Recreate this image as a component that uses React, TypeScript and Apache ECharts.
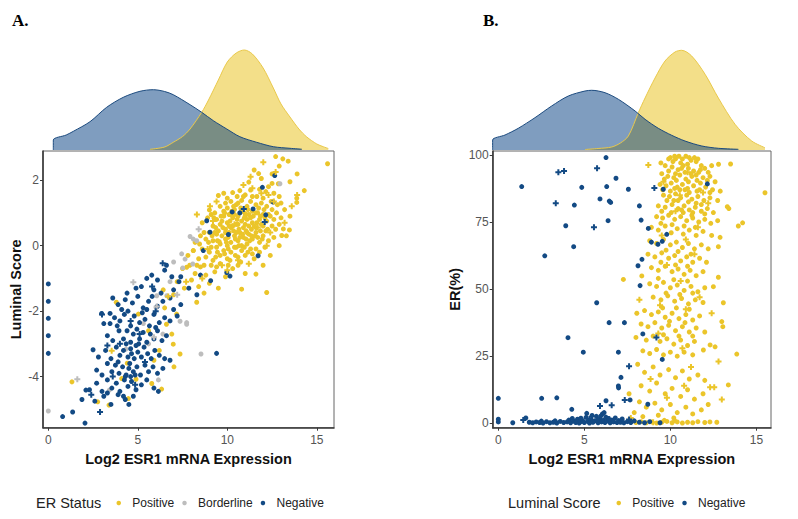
import React, { useEffect, useRef } from "react";
import * as echarts from "echarts";

// ---------- Panel A: Log2 ESR1 vs Luminal Score, coloured by ER status ----------
const aPosDots: number[][] = [
  [12.7,2.72],[13.1,2.65],[13.4,2.58],[12.9,2.43],[15.6,2.5],[11.5,2.31],[13.9,2.19],[12.5,2.19],[11.9,2.05],
  [11.2,1.94],[12.85,1.89],[13.5,1.95],[10.7,1.68],[14.3,1.68],[11.8,1.72],[12.3,1.8],[11.0,1.55],[9.5,1.53],[13.88,1.45],[13.88,1.32],[12.6,1.6],[10.3,1.62],[11.4,1.5],[12.0,1.45],[10.0,1.45],[12.9,1.5],
  [9.6,1.2],[9.9,1.3],[10.2,1.35],[10.5,1.25],[10.8,1.38],[11.1,1.2],[11.3,1.35],[11.6,1.25],[11.9,1.3],[12.2,1.2],[12.5,1.1],[12.8,1.25],[13.2,1.1],[9.3,1.0],[9.8,1.05],[10.1,0.95],[10.4,1.1],[10.7,1.0],[11.0,0.98],[11.4,1.05],[11.7,1.0],[12.0,0.95],[12.4,0.9],[13.0,0.85],[13.5,0.9],
  [8.6,0.7],[8.9,0.85],[9.2,0.6],[9.4,0.8],[9.6,0.65],[9.8,0.9],[10.0,0.7],[10.2,0.55],[10.3,0.85],[10.5,0.65],[10.6,0.9],[10.8,0.75],[10.9,0.55],[11.1,0.8],[11.2,0.6],[11.4,0.7],[11.6,0.55],[11.8,0.8],[12.0,0.6],[12.2,0.75],[12.5,0.6],[12.7,0.5],[13.13,0.51],[13.47,0.48],[9.1,0.95],[9.9,0.5],[10.4,0.95],[11.0,0.92],
  [8.2,0.1],[8.5,0.3],[8.8,0.2],[9.0,0.4],[9.2,0.15],[9.4,0.35],[9.6,0.05],[9.7,0.3],[9.9,0.2],[10.1,0.4],[10.2,0.1],[10.4,0.3],[10.6,0.15],[10.7,0.4],[10.9,0.25],[11.1,0.05],[11.2,0.35],[11.4,0.2],[11.6,0.4],[11.8,0.1],[12.0,0.3],[12.3,0.15],[12.6,0.25],[13.04,0.31],[12.9,0.0],[9.5,0.45],[10.0,0.0],[10.8,0.0],
  [7.8,-0.3],[8.1,-0.15],[8.4,-0.4],[8.6,-0.1],[8.8,-0.35],[9.0,-0.2],[9.2,-0.45],[9.4,-0.05],[9.6,-0.3],[9.8,-0.15],[10.0,-0.4],[10.2,-0.2],[10.4,-0.05],[10.6,-0.35],[10.8,-0.15],[11.0,-0.3],[11.3,-0.1],[11.5,-0.4],[11.8,-0.2],[12.1,-0.05],[12.4,-0.3],
  [7.5,-0.7],[7.9,-0.6],[8.2,-0.85],[8.5,-0.65],[8.8,-0.9],[9.1,-0.6],[9.3,-0.8],[9.6,-0.55],[9.9,-0.95],[10.3,-0.7],[10.6,-0.6],[11.0,-0.85],[11.6,-0.87],[12.0,-0.6],
  [7.2,-1.1],[7.6,-1.3],[8.0,-1.05],[8.4,-1.25],[8.7,-1.45],[9.0,-1.15],[9.5,-1.3],[10.8,-1.33],[12.2,-1.43],[7.0,-1.5],[6.42,-1.35],
  [8.29,-1.73],[3.8,-1.73],[5.03,-2.09],[7.17,-2.09],[4.41,-3.59],[4.47,-4.67],[3.39,-4.87],[2.76,-4.77],[5.78,-4.21],[6.33,-4.38],[6.98,-3.01],[7.02,-3.7],[7.36,-3.31],[5.9,-3.5],[4.9,-4.08],[4.1,-4.06],[1.32,-4.16],[7.73,-0.66],[8.1,-0.15],[6.9,-2.7],[6.5,-1.9],[5.6,-2.6],[6.2,-3.2],[6.6,-2.4],
  [9.55,0.12],[9.75,0.55],[9.85,1.0],[10.05,0.25],[10.15,0.75],[10.25,1.05],[10.35,0.45],[10.45,0.2],[10.55,0.8],[10.65,0.5],[10.75,1.15],[10.85,0.35],[10.95,0.85],[11.05,0.45],[11.15,1.1],[11.25,0.15],[11.35,0.5],[11.45,0.9],[11.55,0.3],[11.65,0.7],[11.75,1.15],[11.85,0.45],[11.95,0.2],[12.1,0.85],[12.15,0.45],[9.35,0.55],[9.15,0.3],[9.65,0.9],[9.45,-0.2],[10.05,-0.1],[10.5,-0.05],[10.95,-0.05],[11.4,-0.25],[10.3,0.6],[10.7,0.25],[11.0,0.65],[10.2,0.95],[9.9,0.4],[11.3,0.85],[10.6,1.3],[11.6,1.0],[10.0,1.15],[9.0,1.09],
  [9.25,0.85],[9.45,0.15],[9.7,0.75],[9.95,0.1],[10.1,0.6],[10.35,1.2],[10.5,0.4],[10.65,0.0],[10.85,1.05],[11.05,0.2],[11.2,0.95],[11.35,0.3],[11.5,0.6],[11.7,0.25],[11.9,0.65],[12.05,1.1],[12.25,0.5],[12.45,1.35],[12.6,0.8],[12.75,1.0],[9.1,-0.05],[9.35,-0.35],[9.85,-0.25],[10.15,-0.45],[10.45,-0.3],[10.75,-0.5],[11.15,-0.2],[11.6,-0.1],[12.3,0.95],[8.7,0.4],[8.95,0.1],[8.45,0.05],[8.3,-0.6],[8.7,-0.6],[9.4,-0.65],[10.05,-0.6],[10.9,1.5],[11.3,1.7],[11.65,1.5],[12.15,1.65],[12.5,1.9],[11.75,2.2],[10.55,1.5],[9.8,1.6],[13.0,1.3],[13.3,0.3],[12.9,0.65],[9.3,0.4],[10.6,0.65],[11.85,0.9],[11.1,0.4]
];
const aPosPlus: number[][] = [
  [12.01,2.55],[11.3,2.1],[12.7,2.25],[13.9,1.55],[9.03,1.2],[12.3,1.55],[10.9,1.85],[8.3,0.95],[12.2,0.0],[11.7,0.55],[10.4,0.65],[9.2,0.75],[9.7,-0.6],[11.2,-0.55],[10.0,-0.75],[8.6,-1.0],[13.2,0.7],[12.6,1.35],[11.9,1.6],[9.4,1.35],[10.6,-0.45],[8.9,-0.1],[7.7,-1.1],[11.4,1.75],[12.4,0.4],[3.54,-3.21],[6.7,-1.55],[13.6,1.2]
];
const aBordDots: number[][] = [
  [0,-5.05],[8.53,-3.31],[7.36,-2.31],[7.73,-2.4],[6.02,-1.89],[5.31,-2.38],[4.34,-3.16],[6.15,-4.1],[3.41,-4.41],[6.06,-1.53],[7.45,-0.25],[7.92,0.28],[8.29,0.15],[7.51,-0.68],[6.62,-1.53],[7.73,-2.35],[12.94,1.89],[8.1,0.2],[7.64,-0.41],[8.07,-0.56],[6.8,-1.1],[5.6,-3.0],[6.4,-2.7],[7.0,-0.5]
];
const aBordPlus: number[][] = [
  [1.62,-4.08],[4.75,-1.12],[6.06,-1.86],[5.9,-2.8],[7.2,-1.5],[8.4,0.5]
];
const aNegDots: number[][] = [
  [5.5,-1.0],[5.78,-0.9],[6.1,-1.05],[6.5,-0.75],[6.9,-0.95],[7.3,-1.1],[4.9,-1.3],[5.2,-1.25],[5.9,-1.35],[6.3,-1.45],[4.4,-1.45],[7.0,-1.35],[6.6,-0.6],
  [3.9,-1.8],[4.3,-1.65],[4.7,-1.75],[5.0,-1.55],[5.3,-1.9],[5.6,-1.7],[5.8,-1.55],[6.1,-1.85],[6.4,-1.7],[6.8,-1.6],[7.0,-1.95],[7.4,-1.8],[4.1,-1.95],[5.5,-1.95],[3.6,-1.6],
  [2.98,-2.07],[3.45,-2.07],[3.1,-2.38],[3.45,-2.38],[3.7,-2.2],[4.0,-2.3],[4.25,-2.1],[4.6,-2.45],[4.8,-2.15],[5.1,-2.35],[5.4,-2.25],[5.65,-2.45],[5.9,-2.1],[6.2,-2.35],[6.5,-2.2],[6.8,-2.3],[7.2,-2.15],[3.85,-2.45],[4.45,-2.0],[5.25,-2.05],[6.0,-2.5],[0,-2.22],
  [3.3,-2.75],[3.6,-2.9],[3.95,-2.6],[4.2,-2.85],[4.4,-2.6],[4.6,-2.95],[4.75,-2.7],[4.95,-2.55],[5.1,-2.85],[5.3,-2.65],[5.5,-2.95],[5.7,-2.7],[5.9,-2.85],[6.1,-2.6],[6.35,-2.9],[6.6,-2.75],[4.35,-3.0],[0,-2.75],[2.5,-3.18],[5.05,-3.0],
  [2.8,-3.4],[3.2,-3.2],[3.5,-3.45],[3.8,-3.1],[4.0,-3.35],[4.2,-3.2],[4.45,-3.4],[4.6,-3.15],[4.8,-3.45],[5.0,-3.25],[5.2,-3.4],[5.35,-3.1],[5.55,-3.3],[5.75,-3.45],[5.95,-3.2],[6.2,-3.35],[6.5,-3.45],[6.8,-3.5],[9.4,-3.29],[0,-3.29],[4.9,-3.05],[4.65,-3.3],
  [2.7,-3.8],[3.0,-3.95],[3.3,-3.6],[3.55,-3.85],[3.75,-3.65],[3.95,-3.9],[4.15,-3.7],[4.35,-3.95],[4.55,-3.6],[4.75,-3.85],[4.95,-3.7],[5.15,-3.95],[5.4,-3.65],[5.6,-3.85],[5.85,-3.7],[6.1,-3.9],[6.4,-3.75],[3.9,-3.55],[4.5,-3.75],[4.85,-3.95],
  [2.3,-4.4],[2.7,-4.2],[3.0,-4.45],[3.3,-4.1],[3.55,-4.35],[3.8,-4.2],[4.0,-4.45],[4.25,-4.1],[4.45,-4.3],[4.65,-4.15],[4.9,-4.4],[5.2,-4.25],[5.5,-4.1],[5.9,-4.35],[6.15,-4.45],[2.1,-4.41],[4.6,-4.0],[4.3,-4.0],
  [1.88,-4.7],[2.6,-4.75],[3.1,-4.6],[3.5,-4.85],[3.9,-4.55],[4.3,-4.7],[4.5,-4.85],[4.75,-4.6],[1.36,-5.08],[0.8,-5.22],[2.05,-5.42],[3.3,-4.5],[4.2,-4.6],
  [8.85,0.76],[9.03,0.41],[8.66,-0.15],[9.97,-0.82],[10.15,-0.93],[11.72,-0.31],[12.15,0.94],[12.56,1.33],[12.65,2.14],[11.96,1.78],[11.44,1.12],[10.7,1.0],[10.27,1.03],[10.06,0.34],[9.07,-1.07],[8.5,-0.9],[7.85,-1.3],[7.4,-0.95],[8.3,-1.5],
  [0,-1.17],[0,-1.7]
];
const aNegPlus: number[][] = [
  [6.39,-0.54],[2.89,-5.08],[5.8,-1.25],[3.0,-2.1],[12.09,0.72],[10.92,1.12],[5.1,-2.7],[4.0,-3.0],[3.6,-4.0],[5.4,-3.55],[4.6,-2.3],[6.0,-2.0],[2.4,-4.55],[3.3,-3.05],[4.85,-4.25]
];

// ---------- Panel B: Log2 ESR1 vs ER(%), coloured by Luminal Score ----------
const bPosDots: number[][] = [
  [10.0,99],[10.3,98.5],[10.6,97],[10.9,99.5],[11.2,98],[11.5,97.5],[11.8,96],[9.7,96],[10.1,95.5],[10.45,94.5],[10.75,96],[11.05,95],[11.35,94],[11.65,93.5],[12.0,95],[12.4,96],[12.8,96.5],[13.5,96.6],
  [9.5,93],[9.85,92],[10.2,91.5],[10.55,92.5],[10.9,91],[11.25,92],[11.55,90.5],[11.9,91.5],[12.3,92],[12.6,90],
  [9.4,89],[9.75,88.5],[10.05,89.5],[10.4,88],[10.7,89],[11.0,87.5],[11.35,88.5],[11.7,87],[12.05,88],[12.45,87],[12.9,86.5],
  [9.6,85],[9.95,84.5],[10.3,85.5],[10.6,84],[10.95,85],[11.25,83.5],[11.6,84.5],[11.95,83],[12.3,84],[12.75,83],[13.31,80.7],
  [9.3,81],[9.7,80.5],[10.1,81.5],[10.45,80],[10.8,81],[11.1,79.5],[11.45,80.5],[11.8,79],[12.15,80],[12.5,78.5],[13.4,80],
  [9.2,77],[9.55,76.5],[9.9,77.5],[10.25,76],[10.6,77],[10.95,75.5],[11.3,76.5],[11.65,75],[12.0,76],[12.35,74.5],[12.75,75.5],[14.2,74.7],[13.95,73.5],[15.5,85.9],
  [10.15,97.5],[10.5,99.5],[11.0,96.5],[11.4,99],[10.3,93],[10.85,93.5],[11.5,92.5],[10.0,86.5],[10.55,87],[11.1,86],[11.5,82],[10.2,83],[10.75,78.5],[11.25,77.5],
  [9.45,97],[9.9,98.5],[10.25,99.5],[10.7,98.5],[11.1,99],[11.6,98.5],[9.9,94],[10.65,95],[11.2,93],[11.75,94.5],[12.2,93.5],[9.65,91],[10.35,90.5],[11.05,90],[11.75,89.5],[12.15,90.5],[9.55,87],[10.25,87.5],[10.85,87],[11.55,86.5],[12.3,86],[9.8,83],[10.45,83],[11.05,82.5],[11.8,81.5],[9.5,79],[10.05,78.5],[10.65,79.5],[11.3,78.5],[12.0,78],[9.45,74.5],[10.1,74],[10.8,73.5],[11.45,73],
  [8.9,73],[9.3,72],[9.7,73.5],[10.05,71],[10.4,72.5],[10.75,70.5],[11.1,72],[11.5,70],[11.9,71.5],[12.4,70],[12.89,69.3],
  [8.8,68],[9.2,67],[9.6,68.5],[10.0,66.5],[10.35,67.5],[10.7,65.5],[11.05,67],[11.4,65],[11.8,66.5],[12.2,65],[12.79,65.8],
  [8.7,63],[9.1,62],[9.5,63.5],[9.9,61.5],[10.25,62.5],[10.6,60.5],[10.95,62],[11.3,60],[11.7,61.5],[12.1,60],[9.75,64.5],[10.45,64],[11.2,63],[9.45,60],[10.3,59],[11.0,58.5],
  [8.9,58],[9.3,57],[9.7,58.5],[10.1,56.5],[10.45,57.5],[10.8,55.5],[11.15,57],[11.5,55],[11.9,56.5],[12.79,54.4],[7.27,53.6],[8.34,54.9],[9.3,54],[10.2,53.5],[11.0,53],
  [8.8,52],[9.2,51],[9.6,52.5],[10.0,50.5],[10.4,51.5],[10.8,49.5],[11.2,51],[11.6,49],[12.0,50.5],[12.5,50.9],[9.75,48.5],[10.55,48],[11.3,48.5],
  [9.0,47],[9.45,46],[9.85,47.5],[10.25,45.5],[10.65,46.5],[11.05,44.5],[11.45,46],[11.9,45],[13.08,44.9],[9.55,43],[10.35,43],[11.1,42.5],
  [8.05,41.0],[8.5,42],[8.9,40.5],[9.3,41.5],[9.7,39.5],[10.1,41],[10.5,39],[10.9,40.5],[11.3,38.5],[11.7,40],[12.99,37.9],[9.95,38],[10.85,37.5],
  [8.3,37],[8.7,36],[9.1,37.5],[9.5,35.5],[9.9,36.5],[10.3,34.5],[10.7,36],[11.1,34],[11.5,35.5],[12.0,34],[13.05,36],[9.6,33],[10.5,32.5],[11.3,32.5],
  [8.0,32],[8.6,31],[9.0,32.5],[9.4,30.5],[9.8,31.5],[10.2,29.5],[10.6,31],[11.0,29],[11.4,30.5],[11.92,27.3],[12.31,29.2],[12.6,28.5],
  [8.4,27],[8.8,26],[9.2,27.5],[9.6,25.5],[10.0,26.5],[10.4,25],[10.8,26.5],[11.3,25.5],[13.86,25.8],
  [8.1,22],[8.5,19],[9.0,21],[9.4,18],[9.9,20],[10.3,17],[10.7,19.5],[11.1,16.5],[11.6,18],[12.0,16],
  [8.3,14],[8.8,12],[9.2,15],[9.7,11],[10.1,13],[10.6,10],[11.0,12.5],[11.4,9],[11.9,11],[13.37,14.3],
  [8.2,8],[8.6,6],[9.1,7.5],[9.5,5],[10.0,7],[10.4,4],[10.9,6],[11.3,3.5],[7.9,4],[8.4,2.5],[9.3,3],[10.2,2],[11.8,5],[12.2,7],[7.6,11],
  [8.0,0.3],[8.3,0.6],[8.6,0.2],[8.9,0.5],[9.2,0.1],[9.5,0.4],[9.8,0.7],[10.1,0.2],[10.4,0.5],[10.7,0.1],[11.0,0.4],[11.3,0.2],[11.6,0.6],[12.0,0.3],[12.3,0.5],[12.7,0.4],[7.7,0.5],[9.65,1.1],[10.25,1.0]
];
const bPosPlus: number[][] = [
  [8.72,96.2],[9.6,90],[11.9,86],[12.2,82],[10.3,79],[11.6,73],[9.5,70],[10.9,68.5],[11.4,63],[9.8,59],[10.6,53],[11.7,47],[8.2,46],[9.4,44],[10.9,42.5],[12.4,41],[9.3,33.5],[10.7,28],[12.8,23],[12.31,13.4],[12.55,13.4],[12.99,8.9],[9.8,9.5],[10.8,14],[11.2,21],[7.7,2],[9.0,0.4],[8.85,16.5],[10.55,85],[11.0,93.5]
];
const bNegDots: number[][] = [
  [1.36,88.2],[3.92,73.6],[4.42,81.3],[4.38,65.8],[2.7,62.4],[4.85,87.9],[5.91,83.6],[6.26,99.0],[6.3,88.2],[6.38,75.5],[6.45,82.8],[6.53,82.3],[6.84,91.3],[7.56,87.2],[8.2,81.0],[8.3,75.7],[9.59,87.2],[8.72,72.6],[8.9,67.5],[9.28,66.7],[9.53,67.8],[9.79,70.4],[8.35,61.1],[8.12,58.7],[8.24,51.3],[5.72,44.9],[6.44,37.5],[7.33,37.5],[12.15,89.2],[4.05,31.9],[8.4,33.3],[4.94,26.5],[6.98,26.5],[9.53,23.8],[7.13,17.1],[6.98,13.9],[6.99,13.2],[7.66,8.7],[8.69,7.1],[6.26,8.4],[4.27,5.2],[5.14,3.7],[0,9.3],[2.52,9.3],[3.4,9.5],[0,1.5],[0,0.5],[0.84,0.2],[1.6,2.0],
  [1.8,0.4],[2.0,0.2],[2.2,0.5],[2.4,0.3],[2.6,0.1],[2.8,0.6],[3.0,0.2],[3.2,0.4],[3.4,0.1],[3.6,0.7],[3.8,0.3],[4.0,0.5],[4.1,1.2],[4.2,0.2],[4.4,0.8],[4.5,0.3],[4.6,1.5],[4.7,0.1],[4.8,0.6],[4.9,1.0],[5.0,0.3],[5.1,2.2],[5.2,0.7],[5.3,0.1],[5.4,1.4],[5.5,0.4],[5.6,0.9],[5.7,2.6],[5.8,0.2],[5.9,1.6],[6.0,0.5],[6.05,3.5],[6.1,1.1],[6.2,0.3],[6.25,2.3],[6.3,0.8],[6.4,1.8],[6.5,0.2],[6.6,1.2],[6.7,0.5],[6.8,2.0],[6.9,0.3],[7.0,1.0],[7.1,0.4],[7.2,1.6],[7.3,0.2],[7.5,0.6],[7.7,0.3],[7.9,0.9],[8.2,0.4],[8.5,0.2],[8.8,0.6],[9.4,0.2],[3.3,0.9],[2.5,0.8],[5.45,2.9],[5.95,2.7],[6.15,4.0],[4.3,1.8],[4.8,1.9],[5.75,1.2]
];
const bNegPlus: number[][] = [
  [3.34,82.0],[3.49,93.5],[3.82,94.0],[5.56,73.0],[5.74,95.0],[9.07,87.7],[9.19,32.0],[7.6,21.3],[7.35,8.7],[5.91,6.4],[6.59,6.7],[1.45,1.2],[4.6,0.9],[6.45,1.5],[5.3,1.7],[7.6,1.4]
];

// ---------- Marginal densities (x, height) ----------
const aNegDensity: number[][] = [
  [0.28,0],[0.28,10],[1.0,15],[1.4,18.7],[2.33,28.3],[3.26,42.7],[4.19,52.7],[5.12,58.7],[5.87,60.3],[6.5,58.5],[6.98,55.3],[7.92,45.3],[8.57,37.7],[9.22,29.3],[9.97,21],[10.7,13.3],[11.64,7.7],[12.57,3.3],[13.5,1.7],[14.16,0.8]
];
const aPosDensity: number[][] = [
  [5.68,0.7],[6.5,3],[6.98,7.7],[7.5,13.5],[7.92,21],[8.57,37.7],[8.95,50],[9.5,70],[10.0,88],[10.5,97],[10.95,100],[11.4,96],[12.0,82],[12.57,62],[13.0,46],[13.5,33],[14.0,21],[14.44,13],[15.0,6],[15.36,3.3],[15.64,1.5]
];
const bNegDensity: number[][] = [
  [-0.33,0],[-0.33,10],[0.39,15],[1.16,21.7],[2.13,32.3],[3.1,44],[4.07,54],[5.04,59],[5.43,59.7],[6.2,57.3],[6.98,50.7],[7.95,39],[8.53,30.7],[9.3,21.7],[10.08,14.7],[10.85,9],[11.83,4],[12.79,1.7],[13.95,0.7]
];
const bPosDensity: number[][] = [
  [5.04,0.5],[5.8,1.5],[6.59,3],[7.1,7],[7.56,14],[8.14,37.3],[8.53,52],[9.11,72],[9.69,89],[10.27,98],[10.66,99.7],[11.24,94],[12.02,75.7],[12.79,52],[13.76,25.7],[14.73,9],[15.5,2.3]
];

const xTicks = [0, 5, 10, 15];
const aYTicks = [-4, -2, 0, 2];
const bYTicks = [0, 25, 50, 75, 100];

const FONT = "Arial, 'Liberation Sans', sans-serif";
const YELLOW = "#EBC52A";
const BLUE = "#134A84";
const GRAY = "#BDBDBD";
const PLUS = "path://M2,0H4V2H6V4H4V6H2V4H0V2H2Z";

function pts(name: string, data: number[][], color: string, idx: number, plus: boolean) {
  return {
    type: "scatter",
    name,
    data,
    xAxisIndex: idx,
    yAxisIndex: idx,
    symbol: plus ? PLUS : "circle",
    symbolSize: plus ? 6 : 5,
    itemStyle: { color, opacity: 1 },
    silent: true,
  };
}

function dens(data: number[][], line: string, fill: string, idx: number) {
  return {
    type: "line",
    data,
    xAxisIndex: idx,
    yAxisIndex: idx,
    showSymbol: false,
    symbol: "none",
    smooth: 0.3,
    lineStyle: { color: line, width: 1 },
    areaStyle: { color: fill, opacity: 1 },
    silent: true,
  };
}

const labelStyle = { color: "#555", fontSize: 12, fontFamily: FONT };
const axisLine = { show: true, onZero: false, lineStyle: { color: "#3a3a3a", width: 1.6 } };

function scatterX(gi: number, min: number, max: number, title: string) {
  return {
    type: "value", gridIndex: gi, min, max,
    name: title, nameLocation: "middle", nameGap: 24,
    nameTextStyle: { fontSize: 14.5, fontWeight: "bold", color: "#111", fontFamily: FONT },
    axisLine,
    axisTick: { show: true, length: 3, customValues: xTicks, lineStyle: { color: "#3a3a3a" } },
    axisLabel: { customValues: xTicks, margin: 6, ...labelStyle },
    splitLine: { show: false },
  };
}

function scatterY(gi: number, min: number, max: number, ticks: number[], title: string, gap: number) {
  return {
    type: "value", gridIndex: gi, min, max,
    name: title, nameLocation: "middle", nameGap: gap, nameRotate: 90,
    nameTextStyle: { fontSize: 14.5, fontWeight: "bold", color: "#111", fontFamily: FONT },
    axisLine,
    axisTick: { show: true, length: 3, customValues: ticks, lineStyle: { color: "#3a3a3a" } },
    axisLabel: { customValues: ticks, margin: 4, ...labelStyle },
    splitLine: { show: false },
  };
}

function hiddenAxis(gi: number, min: number, max: number) {
  return { type: "value", gridIndex: gi, min, max, show: false, splitLine: { show: false } };
}

export default function App() {
  const ref = useRef<HTMLDivElement>(null);
  useEffect(() => {
    if (!ref.current) return;
    const chart = echarts.init(ref.current, undefined, { renderer: "svg" });
    const aMin = -0.296, aMax = 15.96, bMin = -0.326, bMax = 15.85;
    chart.setOption({
      animation: false,
      backgroundColor: "#fff",
      grid: [
        { left: 43, top: 45, width: 291, height: 105 },
        { left: 43, top: 151, width: 291, height: 276.7, show: true, borderColor: "#666", borderWidth: 1 },
        { left: 492.7, top: 45, width: 278.3, height: 105 },
        { left: 492.7, top: 151, width: 278.3, height: 276.7, show: true, borderColor: "#666", borderWidth: 1 },
      ],
      xAxis: [
        hiddenAxis(0, aMin, aMax),
        scatterX(1, aMin, aMax, "Log2 ESR1 mRNA Expression"),
        hiddenAxis(2, bMin, bMax),
        scatterX(3, bMin, bMax, "Log2 ESR1 mRNA Expression"),
      ],
      yAxis: [
        hiddenAxis(0, 0, 105),
        scatterY(1, -5.56, 2.89, aYTicks, "Luminal Score", 20),
        hiddenAxis(2, 0, 105),
        scatterY(3, -1.64, 101.45, bYTicks, "ER(%)", 30),
      ],
      legend: [
        {
          left: 111.5, top: 492, itemWidth: 17, itemHeight: 4.5, itemGap: 8, icon: "circle",
          data: ["Positive", "Borderline", "Negative"],
          textStyle: { fontSize: 12, color: "#222", fontFamily: FONT },
          selectedMode: false,
        },
        {
          left: 611.5, top: 492, itemWidth: 17, itemHeight: 4.5, itemGap: 8, icon: "circle",
          data: ["Positive", "Negative"],
          textStyle: { fontSize: 12, color: "#222", fontFamily: FONT },
          selectedMode: false,
        },
      ],
      graphic: [
        { type: "text", x: 12, y: 12, style: { text: "A.", fontSize: 17, fontWeight: "bold", fontFamily: "'Liberation Serif', 'Times New Roman', serif", fill: "#000" } },
        { type: "text", x: 483, y: 12, style: { text: "B.", fontSize: 17, fontWeight: "bold", fontFamily: "'Liberation Serif', 'Times New Roman', serif", fill: "#000" } },
        { type: "text", x: 36, y: 503, style: { text: "ER Status", fontSize: 14.5, fontFamily: FONT, fill: "#222", verticalAlign: "middle" } },
        { type: "text", x: 508, y: 503, style: { text: "Luminal Score", fontSize: 14.5, fontFamily: FONT, fill: "#222", verticalAlign: "middle" } },
      ],
      series: [
        dens(aPosDensity, "#E9C84A", "rgba(231,191,19,0.5)", 0),
        dens(aNegDensity, "#1B4A7E", "rgba(0,59,128,0.5)", 0),
        dens(bPosDensity, "#E9C84A", "rgba(231,191,19,0.5)", 2),
        dens(bNegDensity, "#1B4A7E", "rgba(0,59,128,0.5)", 2),
        pts("Positive", aPosDots, YELLOW, 1, false),
        pts("Borderline", aBordDots, GRAY, 1, false),
        pts("Negative", aNegDots, BLUE, 1, false),
        pts("Positive", aPosPlus, YELLOW, 1, true),
        pts("Borderline", aBordPlus, GRAY, 1, true),
        pts("Negative", aNegPlus, BLUE, 1, true),
        pts("Positive", bPosDots, YELLOW, 3, false),
        pts("Positive", bPosPlus, YELLOW, 3, true),
        pts("Negative", bNegDots, BLUE, 3, false),
        pts("Negative", bNegPlus, BLUE, 3, true),
      ],
    });
    return () => chart.dispose();
  }, []);
  return <div ref={ref} style={{ position: "fixed", left: 0, top: 0, width: 798, height: 519 }} />;
}
